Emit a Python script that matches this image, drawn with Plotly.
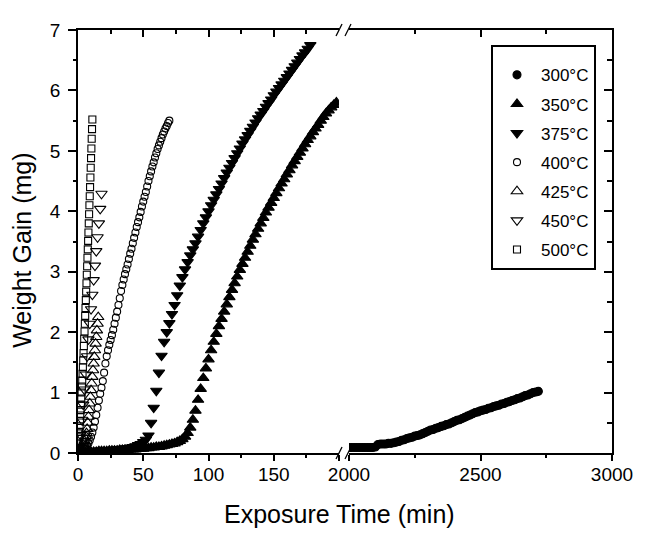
import plotly.graph_objects as go

# exposure time (min) and weight gain (mg) for each temperature
t_300 = [2000, 2010, 2020, 2030, 2040, 2050, 2060, 2070, 2080, 2090,
         2100, 2110, 2120, 2130, 2140, 2150, 2160, 2170, 2180, 2190,
         2200, 2210, 2220, 2230, 2240, 2250, 2260, 2270, 2280, 2290,
         2300, 2310, 2320, 2330, 2340, 2350, 2360, 2370, 2380, 2390,
         2400, 2410, 2420, 2430, 2440, 2450, 2460, 2470, 2480, 2490,
         2500, 2510, 2520, 2530, 2540, 2550, 2560, 2570, 2580, 2590,
         2600, 2610, 2620, 2630, 2640, 2650, 2660, 2670, 2680, 2690,
         2700, 2710, 2720]
w_300 = [0.09, 0.09, 0.09, 0.09, 0.09, 0.09, 0.09, 0.09, 0.09, 0.09,
         0.10, 0.14, 0.15, 0.15, 0.15, 0.16, 0.16, 0.17, 0.18, 0.19,
         0.21, 0.22, 0.24, 0.25, 0.26, 0.28, 0.29, 0.30, 0.32, 0.34,
         0.36, 0.38, 0.39, 0.41, 0.42, 0.44, 0.45, 0.47, 0.48, 0.50,
         0.52, 0.54, 0.55, 0.57, 0.59, 0.61, 0.63, 0.65, 0.67, 0.68,
         0.70, 0.71, 0.72, 0.74, 0.75, 0.77, 0.78, 0.79, 0.81, 0.82,
         0.84, 0.85, 0.87, 0.88, 0.90, 0.91, 0.93, 0.95, 0.96, 0.98,
         1.00, 1.01, 1.02]

t_350 = [0, 2, 4, 6, 8, 10, 12, 14, 16, 18,
         20, 22, 24, 26, 28, 30, 32, 34, 36, 38,
         40, 42, 44, 46, 48, 50, 52, 54, 56, 58,
         60, 62, 64, 66, 68, 70, 72, 74, 76, 78,
         80, 82, 84, 86, 88, 90, 92, 94, 96, 98,
         100, 102, 104, 106, 108, 110, 112, 114, 116, 118,
         120, 122, 124, 126, 128, 130, 132, 134, 136, 138,
         140, 142, 144, 146, 148, 150, 152, 154, 156, 158,
         160, 162, 164, 166, 168, 170, 172, 174, 176, 178,
         180, 182, 184, 186, 188, 190, 192, 194, 196, 198]
w_350 = [0.00, 0.01, 0.01, 0.01, 0.02, 0.02, 0.02, 0.02, 0.03, 0.03,
         0.03, 0.03, 0.04, 0.04, 0.04, 0.04, 0.05, 0.05, 0.05, 0.05,
         0.06, 0.06, 0.06, 0.07, 0.07, 0.07, 0.08, 0.08, 0.09, 0.09,
         0.10, 0.10, 0.11, 0.12, 0.13, 0.14, 0.15, 0.16, 0.18, 0.20,
         0.23, 0.27, 0.33, 0.42, 0.55, 0.70, 0.88, 1.06, 1.24, 1.40,
         1.55, 1.70, 1.84, 1.97, 2.10, 2.22, 2.34, 2.46, 2.58, 2.70,
         2.81, 2.92, 3.03, 3.13, 3.23, 3.33, 3.43, 3.53, 3.62, 3.71,
         3.80, 3.89, 3.98, 4.06, 4.14, 4.22, 4.30, 4.38, 4.46, 4.53,
         4.61, 4.68, 4.76, 4.83, 4.90, 4.97, 5.04, 5.11, 5.18, 5.24,
         5.31, 5.37, 5.43, 5.50, 5.56, 5.62, 5.67, 5.72, 5.76, 5.80]

t_375 = [0, 2, 4, 6, 8, 10, 12, 14, 16, 18,
         20, 22, 24, 26, 28, 30, 32, 34, 36, 38,
         40, 42, 44, 46, 48, 50, 52, 54, 56, 58,
         60, 62, 64, 66, 68, 70, 72, 74, 76, 78,
         80, 82, 84, 86, 88, 90, 92, 94, 96, 98,
         100, 102, 104, 106, 108, 110, 112, 114, 116, 118,
         120, 122, 124, 126, 128, 130, 132, 134, 136, 138,
         140, 142, 144, 146, 148, 150, 152, 154, 156, 158,
         160, 162, 164, 166, 168, 170, 172, 174, 176, 178]
w_375 = [0.00, 0.01, 0.01, 0.02, 0.02, 0.02, 0.03, 0.03, 0.03, 0.04,
         0.04, 0.04, 0.05, 0.05, 0.05, 0.06, 0.06, 0.07, 0.07, 0.08,
         0.09, 0.10, 0.11, 0.13, 0.15, 0.18, 0.22, 0.29, 0.50, 0.75,
         1.03, 1.33, 1.61, 1.84, 2.00, 2.15, 2.30, 2.45, 2.61, 2.77,
         2.91, 3.04, 3.16, 3.27, 3.37, 3.47, 3.58, 3.69, 3.80, 3.90,
         4.00, 4.10, 4.19, 4.28, 4.37, 4.46, 4.55, 4.64, 4.72, 4.80,
         4.88, 4.96, 5.04, 5.12, 5.19, 5.26, 5.33, 5.40, 5.47, 5.54,
         5.60, 5.66, 5.73, 5.79, 5.85, 5.92, 5.98, 6.04, 6.10, 6.16,
         6.22, 6.28, 6.34, 6.40, 6.46, 6.52, 6.58, 6.63, 6.69, 6.75]

t_400 = [0, 1, 2, 3, 4, 5, 6, 7, 8, 9,
         10, 11, 12, 13, 14, 15, 16, 17, 18, 19,
         20, 21, 22, 23, 24, 25, 26, 27, 28, 29,
         30, 31, 32, 33, 34, 35, 36, 37, 38, 39,
         40, 41, 42, 43, 44, 45, 46, 47, 48, 49,
         50, 51, 52, 53, 54, 55, 56, 57, 58, 59,
         60, 61, 62, 63, 64, 65, 66, 67, 68, 69, 70]
w_400 = [0.00, 0.01, 0.02, 0.03, 0.05, 0.07, 0.09, 0.12, 0.16, 0.21,
         0.27, 0.34, 0.42, 0.52, 0.63, 0.75, 0.87, 0.98, 1.08, 1.19,
         1.33, 1.48, 1.60, 1.70, 1.79, 1.87, 1.95, 2.04, 2.14, 2.24,
         2.34, 2.45, 2.56, 2.68, 2.78, 2.87, 2.96, 3.04, 3.12, 3.21,
         3.30, 3.38, 3.47, 3.56, 3.65, 3.74, 3.82, 3.90, 3.99, 4.08,
         4.16, 4.24, 4.32, 4.41, 4.50, 4.58, 4.66, 4.74, 4.81, 4.89,
         4.96, 5.03, 5.09, 5.15, 5.21, 5.27, 5.32, 5.37, 5.41, 5.46, 5.50]

t_425 = [0, 0.5, 1, 1.5, 2, 2.5, 3, 3.5, 4, 4.5, 5, 5.5, 6, 6.5, 7, 7.5,
         8, 8.5, 9, 9.5, 10, 10.5, 11, 11.5, 12, 12.5, 13, 13.5, 14, 14.5, 15, 15.5]
w_425 = [0.00, 0.01, 0.02, 0.03, 0.05, 0.07, 0.09, 0.11, 0.14, 0.17, 0.20, 0.24, 0.28, 0.33, 0.40, 0.50,
         0.60, 0.71, 0.82, 0.93, 1.04, 1.15, 1.26, 1.37, 1.48, 1.59, 1.70, 1.81, 1.92, 2.03, 2.14, 2.25]

t_450 = [0, 1, 2, 3, 4, 5, 6, 7, 8, 9, 10, 11, 12, 13, 14, 15, 16, 17, 18]
w_450 = [0.00, 0.10, 0.30, 0.55, 0.80, 1.05, 1.30, 1.60, 1.88, 2.14,
         2.38, 2.62, 2.86, 3.10, 3.34, 3.57, 3.80, 4.04, 4.29]

t_500 = [0, 0.25, 0.5, 0.75, 1, 1.25, 1.5, 1.75, 2, 2.25, 2.5, 2.75, 3, 3.25, 3.5,
         3.75, 4, 4.25, 4.5, 4.75, 5, 5.25, 5.5, 5.75, 6, 6.25, 6.5, 6.75, 7, 7.25,
         7.5, 7.75, 8, 8.25, 8.5, 8.75, 9, 9.25, 9.5, 9.75, 10, 10.25, 10.5, 10.75, 11]
w_500 = [0.00, 0.08, 0.17, 0.26, 0.35, 0.44, 0.53, 0.62, 0.71, 0.80, 0.90, 1.00, 1.10, 1.20, 1.31,
         1.42, 1.53, 1.65, 1.77, 1.89, 2.01, 2.14, 2.27, 2.40, 2.53, 2.67, 2.81, 2.95, 3.09, 3.23,
         3.37, 3.51, 3.65, 3.80, 3.95, 4.10, 4.25, 4.40, 4.56, 4.72, 4.88, 5.04, 5.20, 5.36, 5.52]

FONT = "Arial, Liberation Sans, sans-serif"
D1, D2 = 0.4888, 0.5075   # broken x axis: 0-200 | 2000-3000

fig = go.Figure()

traces = [
    ("300°C", t_300, w_300, "circle", 8, "x2", "y2"),
    ("350°C", t_350, w_350, "triangle-up", 10, "x", "y"),
    ("375°C", t_375, w_375, "triangle-down", 10, "x", "y"),
    ("400°C", t_400, w_400, "circle-open", 7, "x", "y"),
    ("425°C", t_425, w_425, "triangle-up-open", 10, "x", "y"),
    ("450°C", t_450, w_450, "triangle-down-open", 10, "x", "y"),
    ("500°C", t_500, w_500, "square-open", 7, "x", "y"),
]
for name, t, w, sym, size, xa, ya in traces:
    fig.add_trace(go.Scatter(
        x=t, y=w, mode="markers", name=name, legendgroup=name,
        xaxis=xa, yaxis=ya,
        marker=dict(symbol=sym, size=size, color="black",
                    line=dict(color="black", width=1.1)),
    ))

# empty traces so the top (mirror) axes get drawn
for xa, ya in (("x3", "y"), ("x4", "y2")):
    fig.add_trace(go.Scatter(x=[], y=[], xaxis=xa, yaxis=ya, showlegend=False,
                             hoverinfo="skip"))

tick = dict(tickcolor="black", tickwidth=1.5, showgrid=False, zeroline=False,
            showline=True, linecolor="black", linewidth=1.5)

fig.update_layout(
    width=639, height=550,
    margin=dict(l=70, r=35, t=19, b=105),
    paper_bgcolor="white", plot_bgcolor="white",
    font=dict(family=FONT, size=19, color="black"),
    showlegend=True,
    xaxis=dict(domain=[0, D1], range=[0, 200], anchor="y",
               tickvals=[0, 50, 100, 150, 200], ticktext=["0", "50", "100", "150", ""],
               ticks="outside", ticklen=6, ticklabelstandoff=-3,
               minor=dict(tickvals=[25, 75, 125, 175], ticks="outside", ticklen=3,
                          tickcolor="black", tickwidth=1.5), **tick),
    xaxis2=dict(domain=[D2, 1], range=[2000, 3000], anchor="y2",
                tickvals=[2000, 2500, 3000], ticks="outside", ticklen=6, ticklabelstandoff=-3,
                minor=dict(tickvals=[2250, 2750], ticks="outside", ticklen=3,
                           tickcolor="black", tickwidth=1.5), **tick),
    xaxis3=dict(overlaying="x", side="top", anchor="y", range=[0, 200],
                tickvals=[0, 50, 100, 150, 200], ticks="inside", ticklen=7,
                showticklabels=False,
                minor=dict(tickvals=[25, 75, 125, 175], ticks="inside", ticklen=4,
                           tickcolor="black", tickwidth=1.5), **tick),
    xaxis4=dict(overlaying="x2", side="top", anchor="y2", range=[2000, 3000],
                tickvals=[2000, 2500, 3000], ticks="inside", ticklen=7,
                showticklabels=False,
                minor=dict(tickvals=[2250, 2750], ticks="inside", ticklen=4,
                           tickcolor="black", tickwidth=1.5), **tick),
    yaxis=dict(domain=[0, 1], range=[0, 7], anchor="x",
               tickvals=[0, 1, 2, 3, 4, 5, 6, 7], ticks="outside", ticklen=8,
               ticklabelstandoff=4,
               minor=dict(tickvals=[0.5, 1.5, 2.5, 3.5, 4.5, 5.5, 6.5], ticks="outside",
                          ticklen=3, tickcolor="black", tickwidth=1.5), **tick),
    yaxis2=dict(domain=[0, 1], range=[0, 7], anchor="x2", side="right",
                tickvals=[0, 1, 2, 3, 4, 5, 6, 7], ticks="inside", ticklen=8,
                showticklabels=False,
                minor=dict(tickvals=[0.5, 1.5, 2.5, 3.5, 4.5, 5.5, 6.5], ticks="inside",
                           ticklen=5, tickcolor="black", tickwidth=1.5), **tick),
    legend=dict(x=0.7734, y=0.9648, xanchor="left", yanchor="top",
                bordercolor="black", borderwidth=2, bgcolor="white",
                font=dict(family=FONT, size=17), traceorder="grouped",
                tracegroupgap=4, itemwidth=38,
                title=dict(text=" ", font=dict(size=8))),
    annotations=[
        dict(text="Exposure Time (min)", xref="paper", yref="paper", x=0.49, y=-0.145,
             xanchor="center", yanchor="middle", showarrow=False,
             font=dict(family=FONT, size=25)),
        dict(text="Weight Gain (mg)", xref="paper", yref="paper", x=-0.104, y=0.479,
             xanchor="center", yanchor="middle", textangle=-90, showarrow=False,
             font=dict(family=FONT, size=25)),
    ],
)

# axis-break marks "//" on top and bottom
for ya in (0, 1):
    for xa, off in ((D1, 0), (D2, -1)):
        fig.add_shape(type="line", xref="paper", yref="paper",
                      xsizemode="pixel", ysizemode="pixel",
                      xanchor=xa, yanchor=ya, x0=off - 3, x1=off + 3, y0=-6, y1=6,
                      line=dict(color="black", width=1.3))

fig.write_html("out.html")
